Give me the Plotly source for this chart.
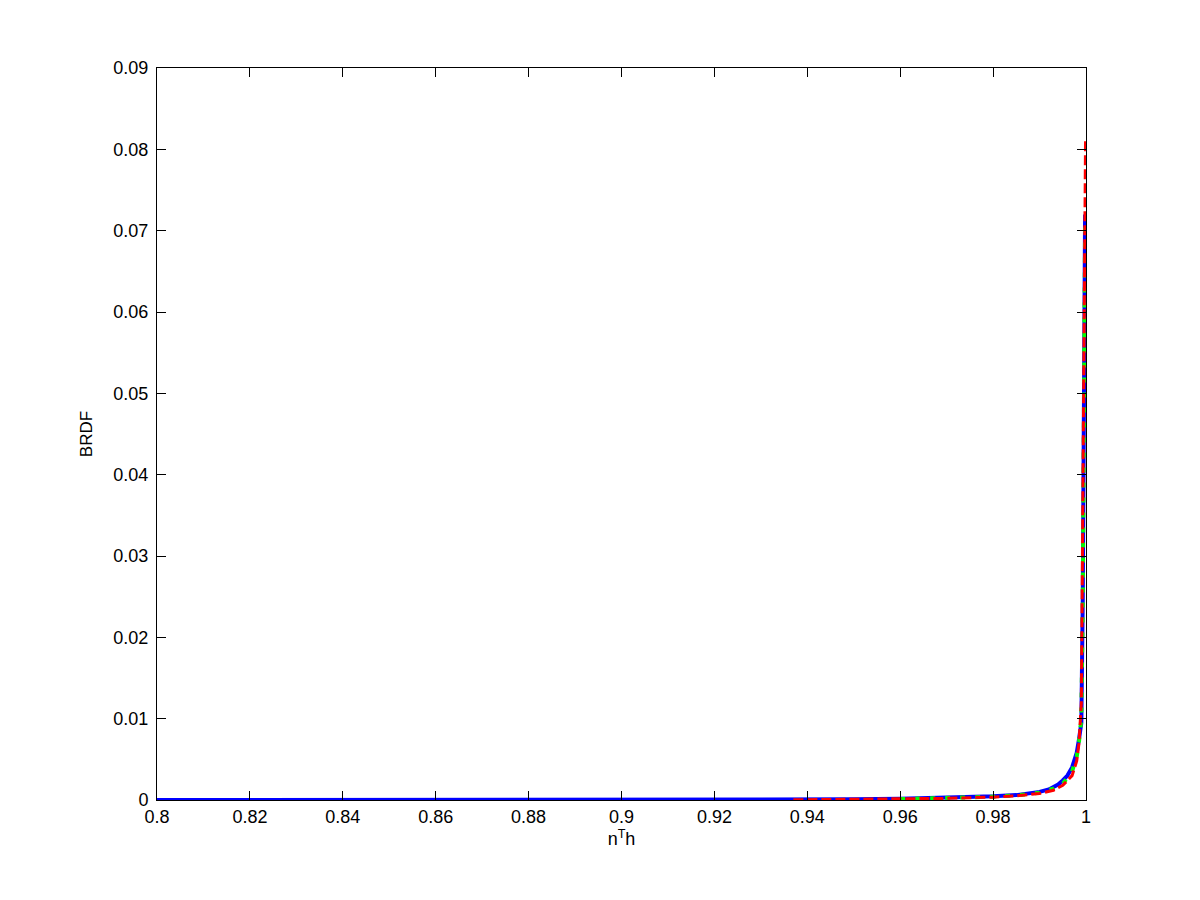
import plotly.graph_objects as go

# Blue series (n^T h, BRDF)
blue_x = [0.8, 0.85, 0.9, 0.93, 0.95, 0.96, 0.97, 0.975, 0.98, 0.985, 0.988, 0.99, 0.992,
          0.994, 0.995, 0.996, 0.997, 0.998, 0.9985, 0.999, 0.9993, 0.9995, 0.99965, 0.9998]
blue_y = [0.0, 0.0, 0.0, 0.00002, 0.00008, 0.00015, 0.00025, 0.00033, 0.00045, 0.0006, 0.0008,
          0.001, 0.0013, 0.0019, 0.0024, 0.003, 0.004, 0.0058, 0.0075, 0.0095, 0.0245, 0.045,
          0.06, 0.072]

# Red series
red_x = [0.937, 0.95, 0.96, 0.97, 0.98, 0.985, 0.99, 0.993, 0.995, 0.997, 0.998, 0.9985,
         0.999, 0.9992, 0.9994, 0.9996, 0.9998, 0.9999]
red_y = [0.00003, 0.00007, 0.00012, 0.0002, 0.00035, 0.0005, 0.0008, 0.0012, 0.0018, 0.003,
         0.0048, 0.007, 0.012, 0.028, 0.046, 0.062, 0.075, 0.0814]

# Green series
green_x = [0.96, 0.97, 0.98, 0.985, 0.99, 0.993, 0.995, 0.997, 0.998, 0.9985, 0.999, 0.9993,
           0.9995, 0.9997, 0.9998]
green_y = [0.00012, 0.0002, 0.0004, 0.00055, 0.0009, 0.0014, 0.002, 0.0035, 0.0053, 0.0072,
           0.01, 0.024, 0.044, 0.06, 0.0705]

x_ticks = [0.8, 0.82, 0.84, 0.86, 0.88, 0.9, 0.92, 0.94, 0.96, 0.98, 1]
x_tick_labels = ["0.8", "0.82", "0.84", "0.86", "0.88", "0.9", "0.92", "0.94", "0.96", "0.98", "1"]
y_ticks = [0, 0.01, 0.02, 0.03, 0.04, 0.05, 0.06, 0.07, 0.08, 0.09]
y_tick_labels = ["0", "0.01", "0.02", "0.03", "0.04", "0.05", "0.06", "0.07", "0.08", "0.09"]

FONT = "Liberation Sans, Arial, Helvetica, sans-serif"

fig = go.Figure()
fig.add_trace(go.Scatter(x=blue_x, y=blue_y, mode="lines",
                         line=dict(color="#0000ff", width=4), showlegend=False))
fig.add_trace(go.Scatter(x=green_x, y=green_y, mode="lines",
                         line=dict(color="#00ff00", width=4, dash="5px,10px"), showlegend=False))
fig.add_trace(go.Scatter(x=red_x, y=red_y, mode="lines",
                         line=dict(color="#ff0000", width=3, dash="10px,4px"), showlegend=False))

axis_common = dict(
    showgrid=False, zeroline=False, showline=True, linecolor="black", linewidth=1,
    mirror="ticks", ticks="inside", ticklen=9, tickcolor="black", tickwidth=1,
    tickfont=dict(family=FONT, size=18, color="black"),
)

fig.update_layout(
    width=1200, height=900,
    paper_bgcolor="white", plot_bgcolor="white",
    margin=dict(l=149, r=122, t=60, b=108),
    xaxis=dict(range=[0.8, 1.0], tickvals=x_ticks, ticktext=x_tick_labels,
               title=dict(text="n<sup>T</sup>h", standoff=2,
                          font=dict(family=FONT, size=18, color="black")),
               **axis_common),
    yaxis=dict(range=[0, 0.09], tickvals=y_ticks, ticktext=y_tick_labels,
               ticklabelstandoff=4,
               title=dict(text="BRDF", standoff=16,
                          font=dict(family=FONT, size=17, color="black")),
               **axis_common),
)

fig.write_html("out.html")
